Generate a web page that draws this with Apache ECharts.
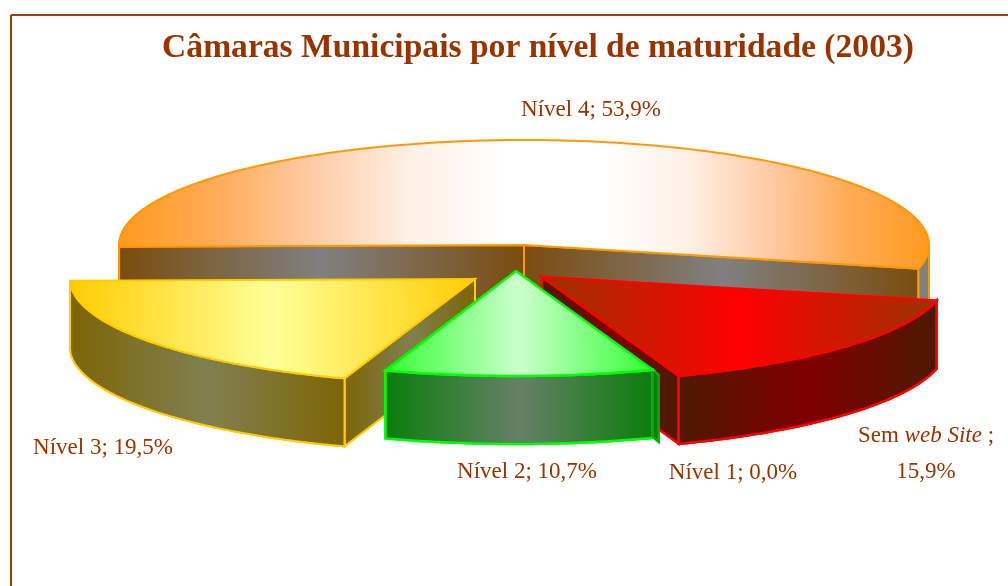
<!DOCTYPE html>
<html><head><meta charset="utf-8">
<style>html,body{margin:0;padding:0;background:#fff}#c{width:1008px;height:586px}</style>
<script src="https://cdn.jsdelivr.net/npm/echarts@6/dist/echarts.min.js"></script>
</head><body><div id="c"></div>
<script>
// DATA
const categories = ['Nível 4', 'Sem web Site', 'Nível 1', 'Nível 2', 'Nível 3'];
const values = [53.9, 15.9, 0.0, 10.7, 19.5];

// LAYOUT / STYLE
const titleText = 'Câmaras Municipais por nível de maturidade (2003)';
const brown = '#993300';
const startDeg = 181, rx = 405, ry = 105, depth = 68;
const pieCenter = [516, 260];
const explode = [[8, -15], [26, 17], [0, 0], [0, 11], [-41, 19]];
const paintOrder = [0, 4, 1, 2, 3];
const labelAnchors = [[591, 110], [926, 454], [733, 473], [527, 472], [103, 448]];
const labelSize = 23;
const looks = [
  {line: '#ff9900', width: 2, top: [[0,'#ff9a1c'],[0.12,'#ffab58'],[0.24,'#ffcba6'],[0.36,'#fff0e6'],[0.48,'#ffffff'],[0.6,'#ffffff'],[0.7,'#fff0e6'],[0.8,'#ffcba6'],[0.9,'#ffab58'],[1,'#ff9a1c']], edge: '#7b4c0e', mid: '#808080'},
  {line: '#ff0000', width: 2.5, top: [[0,'#993300'],[0.5,'#ff0000'],[1,'#993300']], edge: '#4d1a00', mid: '#800000'},
  {line: '#ff0000', width: 2.5, top: [[0,'#993300'],[1,'#993300']], edge: '#4d1a00', mid: '#800000'},
  {line: '#00ff00', width: 2.5, top: [[0,'#33ff33'],[0.5,'#ccffcc'],[1,'#33ff33']], edge: '#0b7d0b', mid: '#668066', lip: true},
  {line: '#ffcc00', width: 2, top: [[0,'#ffcc00'],[0.5,'#ffff99'],[1,'#ffcc00']], edge: '#7d6406', mid: '#808050'}
];

const rad = d => d * Math.PI / 180;
function cumBefore(i) { let s = 0; for (let k = 0; k < i; k++) s += values[k]; return s; }
function rimPoint(c, t) { return [c[0] + rx * Math.cos(rad(t)), c[1] - ry * Math.sin(rad(t))]; }
function arc(c, a, b) {
  const n = Math.max(2, Math.ceil(Math.abs(a - b) * 2)), pts = [];
  for (let i = 0; i <= n; i++) pts.push(rimPoint(c, a + (b - a) * i / n));
  return pts;
}
const down = p => [p[0], p[1] + depth];
const hGrad = stops => ({type: 'linear', x: 0, y: 0, x2: 1, y2: 0,
  colorStops: stops.map(s => ({offset: s[0], color: s[1]}))});
const wallGrad = l => hGrad([[0, l.edge], [0.5, l.mid], [1, l.edge]]);

function renderSlice(params, api) {
  const idx = api.value(1), val = api.value(0);
  if (!(val > 0)) return {type: 'group', children: []};
  const l = looks[idx];
  const c = [pieCenter[0] + explode[idx][0], pieCenter[1] + explode[idx][1]];
  const a = startDeg - cumBefore(idx) * 3.6;   // clockwise start of the slice
  const b = a - val * 3.6;                     // clockwise end of the slice
  const faces = [];
  const poly = (points, fill, stroke, z) => faces.push({type: 'polygon', z2: z,
    shape: {points: points}, style: {fill: fill, stroke: stroke || l.line, lineWidth: l.width, lineJoin: 'miter'}});
  const radialWall = t => { const e = rimPoint(c, t); return [c, e, down(e), down(c)]; };
  // radial cut faces: only those that look towards the viewer
  if (Math.cos(rad(a)) < 0) poly(radialWall(a), wallGrad(l), null, 1);
  if (Math.cos(rad(b)) > 0) poly(radialWall(b), wallGrad(l), null, 1);
  // outer wall: only the parts on the near half of the rim
  const spans = [];
  for (let k = 0; k < 2; k++) {
    const lo = b + 360 * k, hi = a + 360 * k;
    const s = Math.max(lo, 180), e = Math.min(hi, 360);
    if (e > s) spans.push([e, s]);
    const s2 = Math.max(lo, -180), e2 = Math.min(hi, 0);
    if (k === 0 && e2 > s2) spans.push([e2, s2]);
  }
  spans.forEach(sp => {
    const rim = arc(c, sp[0], sp[1]);
    const small = Math.abs(sp[0] - sp[1]) < 30;
    poly(rim.concat(rim.slice().reverse().map(down)), small ? l.mid : wallGrad(l), null, 2);
  });
  if (l.lip) {
    const e = rimPoint(c, a), s = [6, 5];
    poly([e, [e[0] + s[0], e[1] + s[1]], [e[0] + s[0], e[1] + s[1] + depth - 1], [e[0], e[1] + depth - 1]], l.edge, '#00b000', 2);
  }
  // top surface
  poly([c].concat(arc(c, a, b)), hGrad(l.top), null, 3);
  return {type: 'group', children: faces};
}

function fmt(v) { return v.toFixed(1).replace('.', ',') + '%'; }
const labelStyle = {fontFamily: 'Liberation Serif', fontSize: labelSize, fill: brown};
function labelElement(i) {
  const style = Object.assign({}, labelStyle, {x: labelAnchors[i][0], y: labelAnchors[i][1], align: 'center', verticalAlign: 'middle'});
  if (categories[i] === 'Sem web Site') {
    style.text = '{a|Sem }{i|web Site}{a| ;}\n{a|' + fmt(values[i]) + '}';
    style.rich = {
      a: {fontFamily: 'Liberation Serif', fontSize: labelSize, fill: brown, lineHeight: 36},
      i: {fontFamily: 'Liberation Serif', fontSize: labelSize, fontStyle: 'italic', fill: brown, lineHeight: 36}
    };
  } else {
    style.text = categories[i] + '; ' + fmt(values[i]);
  }
  return {type: 'text', silent: true, style: style};
}

const chart = echarts.init(document.getElementById('c'), null, {renderer: 'canvas'});
chart.setOption({
  animation: false,
  backgroundColor: '#ffffff',
  title: {
    text: titleText, left: 533, top: 26, textAlign: 'center',
    textStyle: {fontFamily: 'Liberation Serif', fontWeight: 'bold', fontSize: 33.6, color: brown}
  },
  graphic: [
    {type: 'line', silent: true, shape: {x1: 11, y1: 15, x2: 1008, y2: 15}, style: {stroke: '#a33c0a', lineWidth: 2}},
    {type: 'line', silent: true, shape: {x1: 11, y1: 15, x2: 11, y2: 586}, style: {stroke: '#a33c0a', lineWidth: 2}}
  ].concat(categories.map((_, i) => labelElement(i))),
  series: [{
    type: 'custom',
    coordinateSystem: 'none',
    silent: true,
    renderItem: renderSlice,
    data: paintOrder.map(i => [values[i], i])
  }]
});
</script></body></html>
